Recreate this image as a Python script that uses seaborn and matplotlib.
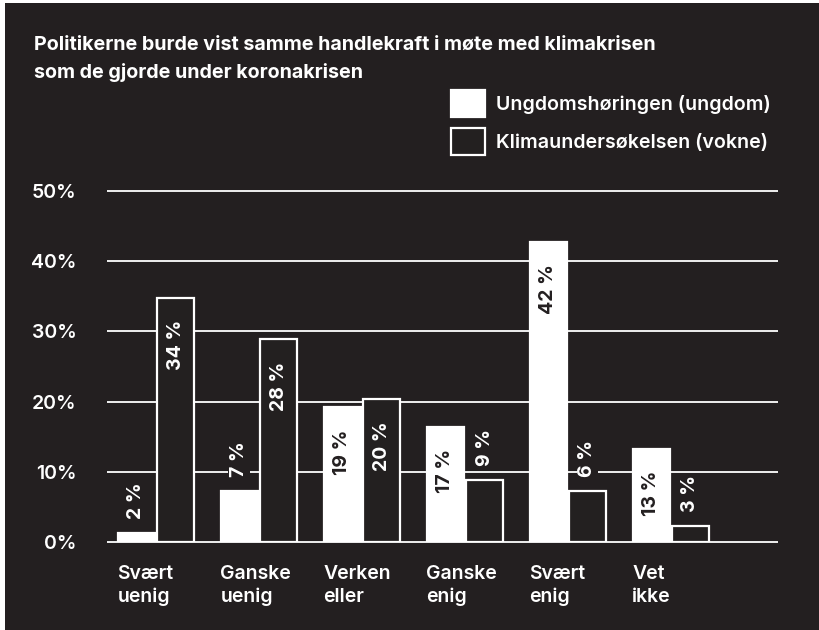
import matplotlib
matplotlib.use("Agg")
import matplotlib.pyplot as plt
import matplotlib.patches as mpatches
import matplotlib.transforms as mtransforms
import pandas as pd
import seaborn as sns

# --------------------------------
# DATA
# --------------------------------

title = "Politikerne burde vist samme handlekraft i møte med klimakrisen\nsom de gjorde under koronakrisen"

categories = ["Svært\nuenig", "Ganske\nuenig", "Verken\neller", "Ganske\nenig", "Svært\nenig", "Vet\nikke"]
groups = ["Ungdomshøringen (ungdom)", "Klimaundersøkelsen (vokne)"]

# bar heights as drawn, and the labels printed on them
ungdom = [1.3, 7.3, 19.2, 16.4, 42.7, 13.3]
vokne = [34.8, 28.9, 20.4, 8.9, 7.3, 2.3]
ungdom_labels = ["2 %", "7 %", "19 %", "17 %", "42 %", "13 %"]
vokne_labels = ["34 %", "28 %", "20 %", "9 %", "6 %", "3 %"]

yticks = [0, 10, 20, 30, 40, 50]
ytick_labels = ["0%", "10%", "20%", "30%", "40%", "50%"]

BG = "#231f20"
FG = "#ffffff"

df = pd.DataFrame({
    "kategori": categories * 2,
    "andel": ungdom + vokne,
    "gruppe": [groups[0]] * len(categories) + [groups[1]] * len(categories),
})

# --------------------------------
# FIGURE
# --------------------------------

sns.set_theme(style="white")
plt.rcParams["font.family"] = ["Inter", "DejaVu Sans"]
plt.rcParams["font.weight"] = "semibold"

fig = plt.figure(figsize=(8.19, 6.3), dpi=100, facecolor="white")
fig.patches.append(mpatches.Rectangle(
    (5 / 819, 0), 1, 1 - 3 / 630, transform=fig.transFigure,
    facecolor=BG, edgecolor="none", zorder=-10))

ax = fig.add_axes([107 / 819, 88 / 630, 671 / 819, 351 / 630])
ax.set_facecolor("none")

sns.barplot(
    data=df, x="kategori", y="andel", hue="gruppe",
    palette={groups[0]: FG, groups[1]: BG},
    edgecolor=FG, linewidth=1.6,
    width=0.76, gap=0.06, ax=ax, zorder=3,
)

ax.set_ylim(0, 50)
ax.set_xlim(-0.476, 6.04)
ax.hlines(yticks, -0.476, 6.04, colors=FG, linewidth=1.3, zorder=1, clip_on=False)

for s in ax.spines.values():
    s.set_visible(False)

ax.set_yticks(yticks)
ax.set_yticklabels(ytick_labels, color=FG, fontsize=14, fontweight="semibold")
ax.tick_params(axis="y", length=0, pad=22)
ax.set_xticks([])
ax.set_xlabel("")
ax.set_ylabel("")

# category labels, left aligned with the first bar of each group
trans = mtransforms.blended_transform_factory(ax.transData, ax.transAxes)
for i, cat in enumerate(categories):
    ax.text(i - 0.375, -0.065, cat, transform=trans, ha="left", va="top",
            color=FG, fontsize=14, fontweight="semibold", linespacing=1.35)

# value labels
for container, labels in zip(ax.containers, [ungdom_labels, vokne_labels]):
    for bar, lab in zip(container, labels):
        h = bar.get_height()
        x = bar.get_x() + bar.get_width() / 2
        inside = h >= 10
        if inside:
            color = BG if bar.get_facecolor()[0] > 0.5 else FG
            ax.annotate(lab, (x, h), xytext=(0, -16), textcoords="offset points",
                        rotation=90, ha="center", va="top", color=color,
                        fontsize=14, fontweight="bold", zorder=5)
        else:
            ax.annotate(lab, (x, h), xytext=(0, 10), textcoords="offset points",
                        rotation=90, ha="center", va="bottom", color=FG,
                        fontsize=14, fontweight="bold", zorder=5,
                        bbox=dict(boxstyle="square,pad=0.1", fc=BG, ec="none"))

# legend
handles, labels = ax.get_legend_handles_labels()
if ax.legend_:
    ax.legend_.remove()
fig.legend(handles, labels, loc="upper left", bbox_to_anchor=(451 / 819, 1 - 90 / 630),
           frameon=False, borderpad=0, borderaxespad=0,
           handlelength=1.75, handleheight=1.75, handletextpad=0.55, labelspacing=0.55,
           labelcolor=FG, prop={"weight": "semibold", "size": 14.1})

fig.text(34 / 819, 1 - 36 / 630, title, ha="left", va="top", color=FG,
         fontsize=14.2, fontweight="bold", linespacing=1.6)

fig.savefig("out.png", dpi=100, facecolor=fig.get_facecolor())
